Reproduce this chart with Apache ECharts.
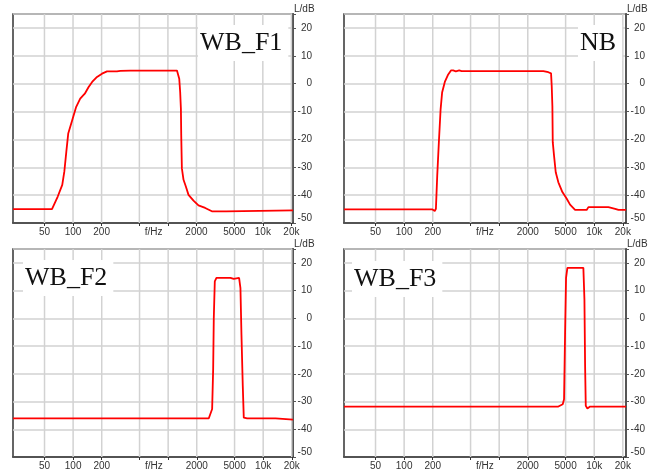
<!DOCTYPE html>
<html>
<head>
<meta charset="utf-8">
<script src="https://cdn.jsdelivr.net/npm/echarts@6/dist/echarts.min.js"></script>
<style>html,body{margin:0;padding:0;background:#fff}#c{width:655px;height:471px}</style>
</head>
<body>
<div id="c"></div>
<script>
// ---- data ----
const panelTitles = ['WB_F1', 'NB', 'WB_F2', 'WB_F3'];
const gridValues = [50, 100, 200, 500, 1000, 2000, 5000, 10000, 20000];
const labelValues = [50, 100, 200, 707, 2000, 5000, 10000, 20000];
const labelTexts = ['50', '100', '200', 'f/Hz', '2000', '5000', '10k', '20k'];
const yTicks = [-50, -40, -30, -20, -10, 0, 10, 20];
const yMin = -50;
const yMax = 25;

const freqWB_F1 = [23.3, 60, 69, 77, 81, 85, 89, 98, 108, 119, 133, 146, 159, 179, 202, 228, 290, 315, 401, 800, 1245, 1316, 1346, 1370, 1381, 1403, 1460, 1545, 1648, 1860, 2098, 2470, 2905, 4100, 4180, 20800];
const levelWB_F1 = [-45, -45, -40.5, -36.3, -31.5, -24.4, -17.9, -13.1, -8.3, -5.4, -3.6, -1.2, 0.6, 2.4, 3.6, 4.4, 4.4, 4.6, 4.7, 4.7, 4.7, 1.8, -3, -8.9, -18.5, -30.4, -34.5, -36.9, -39.9, -42, -43.7, -44.6, -45.8, -45.8, -45.5, -45.5];

const freqNB = [23.3, 197, 210, 216, 223, 232, 242, 251, 268, 291, 311, 328, 350, 380, 402, 2918, 3290, 3515, 3573, 3630, 3663, 3780, 3937, 4195, 4626, 5140, 5570, 6290, 8330, 8690, 14100, 16600, 18000, 21600];
const levelNB = [-45.1, -45.1, -45.7, -44.9, -33, -21, -9.2, -3.2, 0.6, 3.3, 4.75, 4.75, 4.4, 4.75, 4.5, 4.5, 4.1, 3.7, -0.9, -8, -21, -25.9, -31.8, -35.4, -38.9, -41.3, -43.4, -45.3, -45.3, -44.3, -44.3, -44.9, -45.3, -45.3];

const freqWB_F2 = [23.3, 2673, 2786, 2904, 2977, 3022, 3097, 3222, 4528, 4900, 5107, 5580, 5765, 5910, 6100, 6250, 6510, 6790, 13500, 14000, 20600];
const levelWB_F2 = [-36.1, -36.1, -35.8, -32.7, -18.2, 0, 13.3, 14.6, 14.6, 14.2, 14.6, 14.6, 10.9, -6, -24.3, -35.8, -36.4, -36.1, -36.1, -36.5, -36.5];

const freqWB_F3 = [23.3, 4198, 4665, 4815, 4937, 5055, 5220, 7690, 7890, 8020, 8150, 8480, 9050, 21600];
const levelWB_F3 = [-31.8, -31.8, -31, -29.2, -5.5, 14.6, 18.2, 18.2, 6.9, -17.3, -31.5, -32.5, -31.8, -31.8];

const freqs = [freqWB_F1, freqNB, freqWB_F2, freqWB_F3];
const levels = [levelWB_F1, levelNB, levelWB_F2, levelWB_F3];
const xMin = [23.3, 23.3, 23.3, 23.3];
const xMax = [20800, 21600, 20600, 21600];

// ---- layout ----
const grids = [
  {left: 13, top: 14, width: 280, height: 209},
  {left: 344, top: 14, width: 282, height: 209},
  {left: 13, top: 249, width: 280, height: 208},
  {left: 344, top: 249, width: 282, height: 211}
];
const titlePos = [
  {left: 198, top: 25},
  {left: 578, top: 25},
  {left: 23, top: 260},
  {left: 352, top: 261}
];

const LABEL_FONT = 'Liberation Sans, Arial, sans-serif';
const GRID_COLOR = '#d2d2d2';

// vertical grid lines at the 1-2-5 frequencies, drawn through the log axis
function gridLineData() {
  const d = [];
  gridValues.forEach(v => { d.push([v, yMin], [v, yMax], [v, '-']); });
  return d;
}

const gridSeries = grids.map((g, i) => ({
  type: 'line',
  xAxisIndex: i,
  yAxisIndex: i,
  silent: true,
  showSymbol: false,
  symbol: 'none',
  connectNulls: false,
  z: 1,
  lineStyle: {color: GRID_COLOR, width: 1.5},
  emphasis: {disabled: true},
  data: gridLineData()
}));

const curveSeries = freqs.map((f, i) => ({
  type: 'line',
  xAxisIndex: i,
  yAxisIndex: i,
  showSymbol: false,
  symbol: 'none',
  lineStyle: {color: '#ff0000', width: 1.8},
  z: 3,
  data: f.map((x, j) => [x, levels[i][j]])
}));

const option = {
  animation: false,
  backgroundColor: '#fff',
  title: panelTitles.map((t, i) => ({
    text: t,
    left: titlePos[i].left,
    top: titlePos[i].top,
    padding: [5, 6, 5, 2],
    backgroundColor: '#fff',
    z: 10,
    textStyle: {fontFamily: 'Liberation Serif, Times New Roman, serif', fontSize: 26, fontWeight: 'normal', color: '#111'}
  })),
  grid: grids.map(g => Object.assign({show: true, borderColor: '#333', borderWidth: 1.5, backgroundColor: 'transparent'}, g)),
  xAxis: grids.map((g, i) => ({
    type: 'log',
    logBase: 10,
    gridIndex: i,
    min: xMin[i],
    max: xMax[i],
    axisLine: {show: true, onZero: false, lineStyle: {color: '#333', width: 1.5}},
    axisTick: {show: true, length: 3, inside: false, customValues: gridValues, lineStyle: {color: '#333'}},
    axisLabel: {
      show: true,
      customValues: labelValues,
      margin: 4,
      fontSize: 10,
      fontFamily: LABEL_FONT,
      color: '#333',
      formatter: v => {
        const k = labelValues.findIndex(x => Math.abs(x - v) / x < 0.01);
        return k >= 0 ? labelTexts[k] : '';
      }
    },
    splitLine: {show: false},
    minorTick: {show: false},
    minorSplitLine: {show: false}
  })),
  yAxis: grids.map((g, i) => ({
    type: 'value',
    gridIndex: i,
    position: 'right',
    min: yMin,
    max: yMax,
    interval: 10,
    name: 'L/dB',
    nameLocation: 'end',
    nameGap: 0,
    nameTextStyle: {fontSize: 10, fontFamily: LABEL_FONT, color: '#333', align: 'left', verticalAlign: 'bottom', padding: [0, 0, 0, 1]},
    axisLine: {show: true, lineStyle: {color: '#555', width: 2}},
    axisTick: {show: true, length: 3, lineStyle: {color: '#555'}},
    axisLabel: {
      show: true,
      align: 'right',
      margin: 19,
      fontSize: 10,
      fontFamily: LABEL_FONT,
      color: '#333',
      formatter: v => (yTicks.indexOf(v) >= 0 ? (v === -50 ? '{b|-50}' : String(v)) : ''),
      rich: {b: {fontSize: 10, fontFamily: LABEL_FONT, color: '#333', padding: [0, 0, 10, 0]}}
    },
    splitLine: {show: true, lineStyle: {color: GRID_COLOR, width: 1.5}}
  })),
  series: gridSeries.concat(curveSeries)
};

const chart = echarts.init(document.getElementById('c'), null, {renderer: 'canvas'});
chart.setOption(option);
</script>
</body>
</html>
